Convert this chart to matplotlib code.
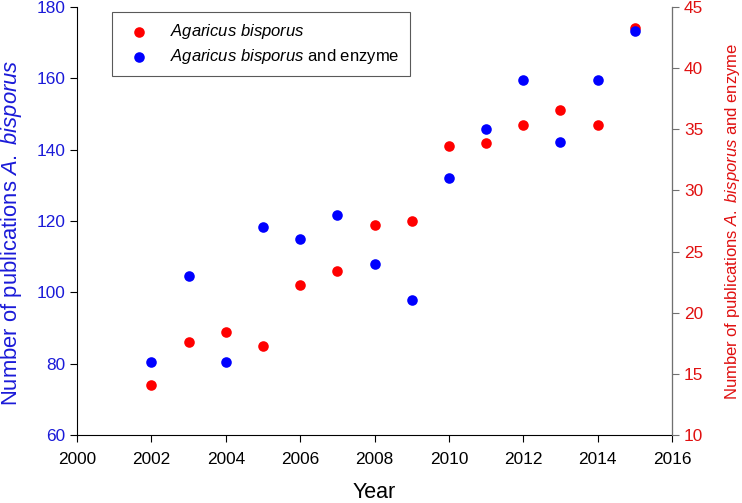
import matplotlib
matplotlib.use("Agg")
import matplotlib.pyplot as plt

plt.rcParams["font.family"] = ["Liberation Sans", "DejaVu Sans"]
plt.rcParams["mathtext.fontset"] = "custom"
plt.rcParams["mathtext.rm"] = "Liberation Sans"
plt.rcParams["mathtext.it"] = "Liberation Sans:italic"

# Publications per year
years = [2002, 2003, 2004, 2005, 2006, 2007, 2008, 2009,
         2010, 2011, 2012, 2013, 2014, 2015]
bisporus = [74, 86, 89, 85, 102, 106, 119, 120, 141, 142, 147, 151, 147, 174]
bisporus_enzyme = [16, 23, 16, 27, 26, 28, 24, 21, 31, 35, 39, 34, 39, 43]

blue_txt = "#1a1ad8"
red_txt = "#e01010"

fig = plt.figure(figsize=(7.42, 5.03), dpi=100)
ax = fig.add_axes([0.1038, 0.1352, 0.8019, 0.8509])
ax2 = ax.twinx()

p1 = ax.scatter(years, bisporus, s=58, color="#ff0000", zorder=3, linewidths=0,
                label=r"$\it{Agaricus}$ $\it{bisporus}$")
p2 = ax2.scatter(years, bisporus_enzyme, s=58, color="#0000ff", zorder=3, linewidths=0,
                 label=r"$\it{Agaricus}$ $\it{bisporus}$ and enzyme")

ax.set_xlim(2000, 2016)
ax.set_xticks(range(2000, 2017, 2))
ax.set_ylim(60, 180)
ax.set_yticks(range(60, 181, 20))
ax2.set_ylim(10, 45)
ax2.set_yticks(range(10, 46, 5))

ax.spines["top"].set_visible(False)
ax2.spines["top"].set_visible(False)
ax2.spines["left"].set_visible(False)
ax2.spines["bottom"].set_visible(False)
ax2.spines["right"].set_color("#707070")

ax.tick_params(axis="x", labelsize=12.4, direction="out", length=5, pad=7)
ax.tick_params(axis="y", labelsize=12.4, direction="out", length=5, labelcolor=blue_txt)
ax2.tick_params(axis="y", labelsize=12.4, direction="out", length=5, colors="#707070",
                labelcolor=red_txt)

ax.set_xlabel("Year", fontsize=15.5, labelpad=11)
ax.set_ylabel(r"Number of publications $\it{A.}$ $\it{bisporus}$", fontsize=15.8,
              color=blue_txt)
ax.yaxis.set_label_coords(-0.089, 0.472)
ax2.set_ylabel(r"Number of publications $\it{A.}$ $\it{bisporus}$ and enzyme", fontsize=12,
               color=red_txt, labelpad=14)

leg = ax.legend(handles=[p1, p2], loc="upper left", bbox_to_anchor=(0.059, 0.988),
                fontsize=12, frameon=True, fancybox=False, edgecolor="#303030",
                borderpad=0.6, handletextpad=0.9, labelspacing=0.35, borderaxespad=0)
leg.get_frame().set_linewidth(0.8)

fig.savefig("out.png", dpi=100)
